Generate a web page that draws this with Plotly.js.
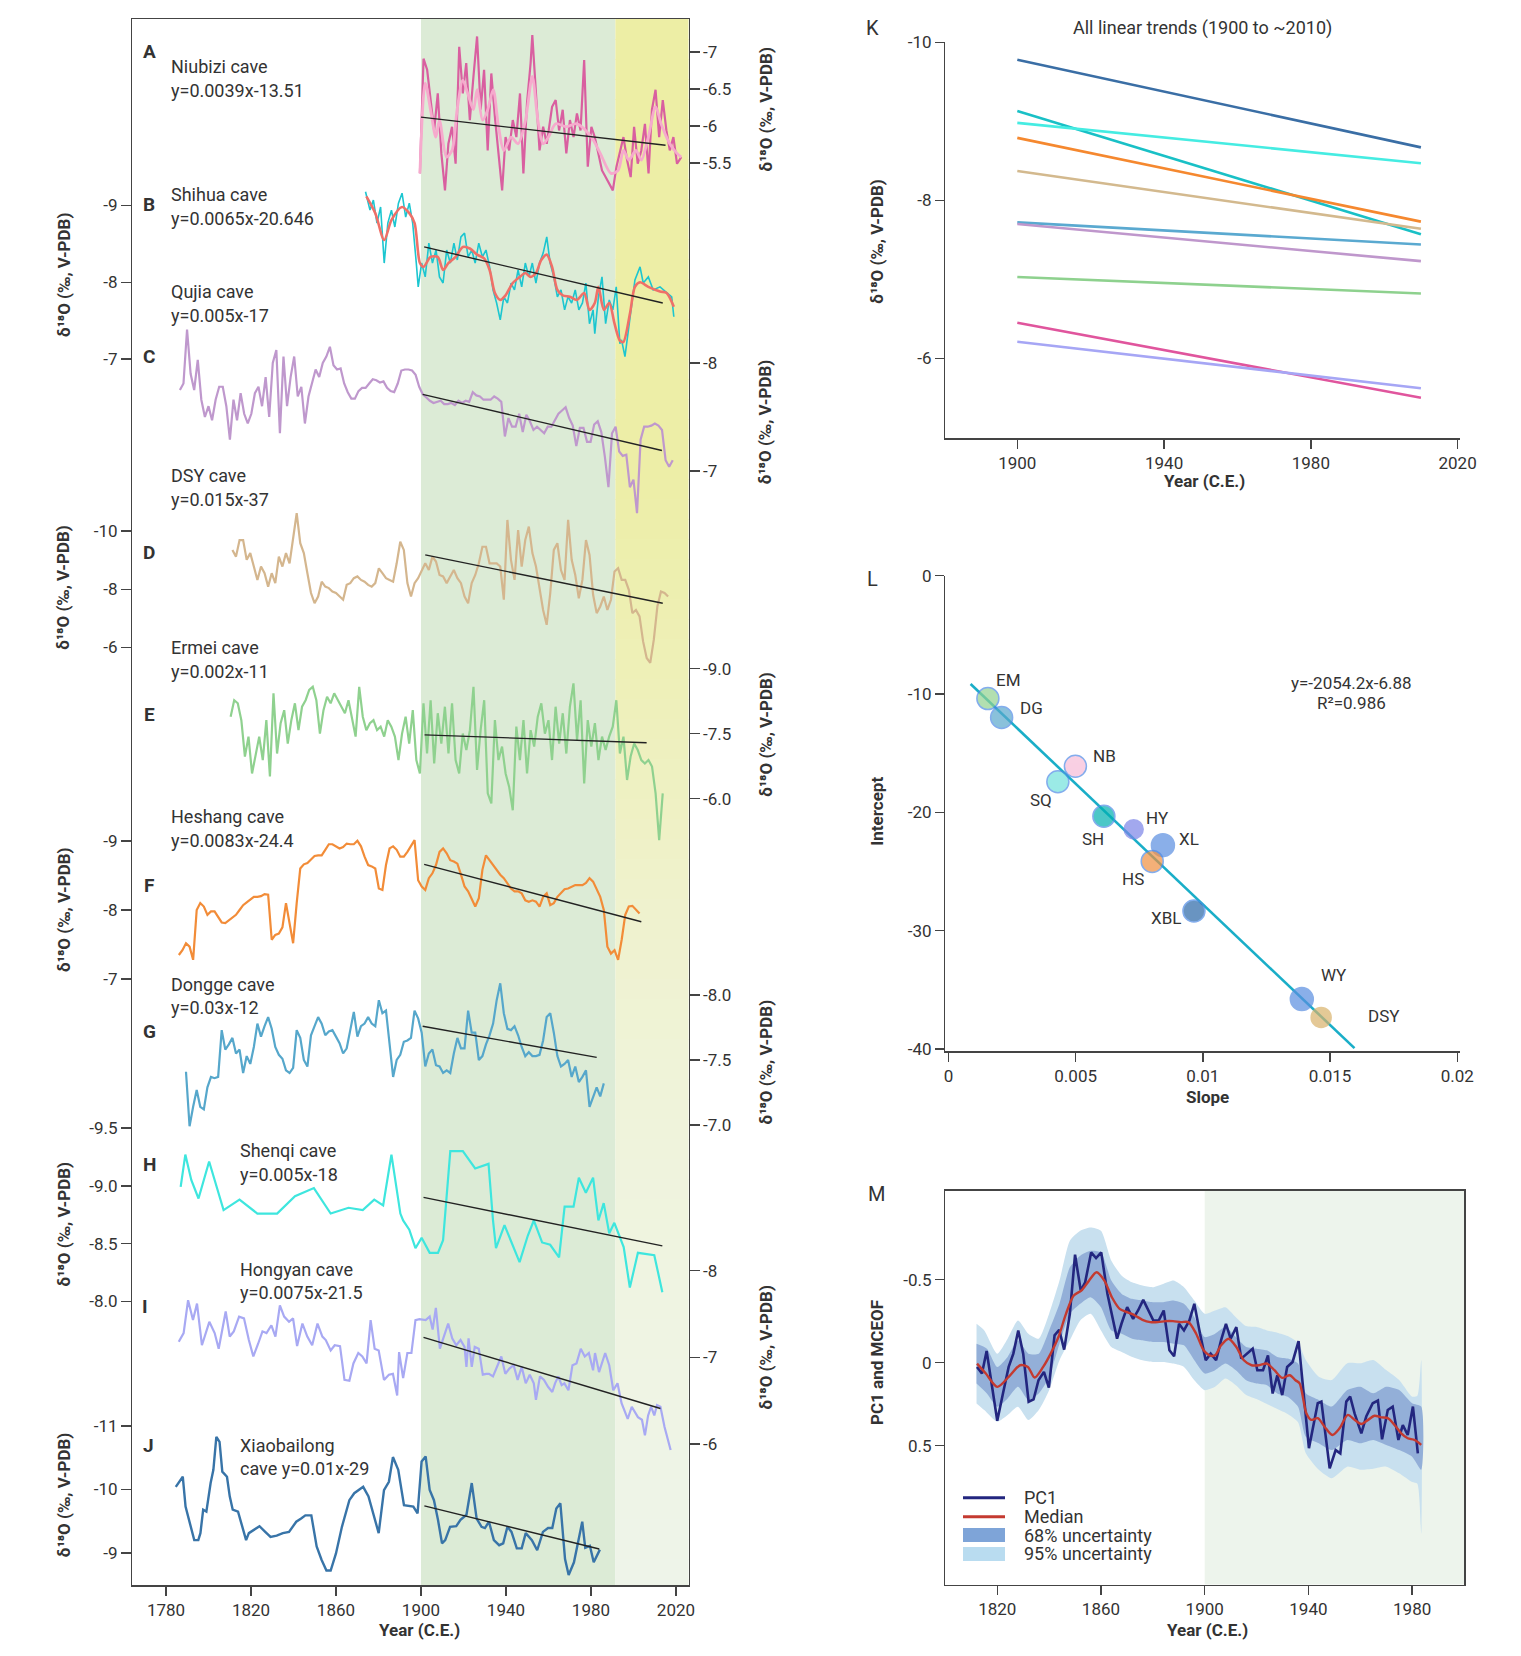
<!DOCTYPE html>
<html><head><meta charset="utf-8">
<script src="https://cdn.plot.ly/plotly-3.0.1.min.js"></script>
<style>html,body{margin:0;padding:0;background:#fff}#chart{width:1521px;height:1656px}</style>
</head><body><div id="chart"></div>
<script>
// ---------------- DATA ----------------
const STEP = 1.6807;

// A  Niubizi cave (raw + smoothed)
const A_years = [1899.5,1901.2,1902.9,1904.5,1906.2,1907.9,1909.6,1911.3,1912.9,1914.6,1916.3,1918.0,1919.7,1921.3,1923.0,1924.7,1926.4,1928.1,1929.7,1931.4,1933.1,1934.8,1936.5,1938.2,1939.8,1941.5,1943.2,1944.9,1946.6,1948.2,1949.9,1951.6,1952.4,1954.1,1955.8,1957.5,1959.2,1961.7,1963.4,1965.0,1966.7,1968.4,1970.1,1971.8,1973.4,1975.1,1976.8,1978.5,1980.2,1981.8,1983.5,1985.2,1986.9,1988.6,1990.3,1992.0,1993.6,1995.3,1997.0,1998.7,2000.3,2002.0,2003.7,2005.4,2007.1,2008.7,2010.4,2012.1,2013.8,2015.5,2017.1,2018.8,2020.5,2022.5];
const A_vals = [-5.36,-6.91,-6.76,-6.40,-5.94,-6.44,-5.63,-5.13,-5.76,-5.99,-5.49,-7.07,-6.44,-6.85,-6.08,-6.67,-7.21,-6.22,-6.76,-5.67,-6.71,-6.12,-5.67,-5.13,-5.85,-5.67,-6.08,-5.85,-6.44,-5.36,-6.31,-6.85,-7.23,-6.40,-5.67,-5.99,-5.76,-6.26,-6.35,-5.94,-6.22,-5.63,-6.08,-5.85,-6.17,-5.94,-6.89,-5.45,-5.99,-5.85,-5.63,-5.40,-5.31,-5.22,-5.13,-5.45,-5.63,-5.85,-5.54,-5.31,-5.99,-5.49,-5.67,-6.03,-5.36,-6.22,-6.49,-5.85,-6.35,-5.94,-5.67,-5.85,-5.49,-5.58];
const As_years = [1899.5,1902.0,1904.5,1907.0,1908.7,1912.0,1914.6,1917.0,1919.7,1922.0,1924.7,1926.4,1929.0,1931.4,1934.0,1936.5,1939.0,1942.4,1945.7,1949.2,1952.4,1955.0,1957.5,1960.0,1963.4,1968.4,1973.4,1980.2,1984.4,1989.4,1992.8,1995.3,1997.8,2001.2,2003.7,2007.0,2010.4,2013.0,2017.1,2020.5,2022.5];
const As_vals = [-5.36,-6.58,-6.22,-5.85,-6.08,-5.58,-5.67,-6.22,-6.62,-6.44,-6.22,-6.49,-6.08,-6.22,-6.49,-5.99,-5.67,-5.85,-5.76,-6.08,-6.67,-6.08,-5.76,-5.85,-6.03,-5.99,-6.03,-5.85,-5.63,-5.36,-5.40,-5.67,-5.54,-5.67,-5.54,-5.85,-6.26,-6.03,-5.76,-5.63,-5.58];

// B  Shihua cave (raw + smoothed)
const B_years = [1873.9,1876.0,1877.6,1879.3,1881.0,1882.7,1884.4,1886.1,1887.7,1889.4,1891.1,1892.8,1894.5,1896.1,1897.8,1898.7,1900.3,1902.0,1903.7,1905.4,1907.1,1908.7,1910.4,1912.1,1913.8,1915.5,1917.1,1918.8,1920.5,1922.2,1923.9,1925.5,1927.2,1928.9,1930.6,1932.3,1933.9,1935.6,1937.3,1939.0,1940.7,1942.4,1944.0,1945.7,1947.4,1949.1,1950.8,1952.4,1954.1,1955.8,1957.5,1959.2,1960.8,1962.5,1964.2,1965.9,1967.6,1969.2,1970.9,1972.6,1974.3,1976.0,1977.6,1979.3,1981.0,1981.8,1983.5,1985.2,1986.9,1988.6,1990.3,1991.9,1993.6,1994.4,1996.0,1998.4,2000.7,2003.1,2004.6,2007.0,2009.3,2012.5,2015.6,2018.0,2019.0];
const B_vals = [-9.18,-8.94,-9.07,-8.77,-8.98,-8.25,-8.77,-8.94,-8.72,-9.03,-9.16,-8.85,-9.03,-8.77,-8.25,-7.94,-8.25,-8.07,-8.51,-8.25,-8.42,-8.07,-7.99,-8.42,-8.25,-8.51,-8.29,-8.59,-8.64,-8.33,-8.42,-8.25,-8.51,-8.33,-8.42,-8.20,-7.90,-7.73,-7.51,-7.81,-7.73,-7.99,-7.90,-8.16,-7.94,-8.25,-8.07,-8.25,-7.99,-8.25,-8.38,-8.59,-8.25,-8.07,-7.81,-7.90,-7.64,-7.81,-7.73,-7.90,-7.64,-7.73,-7.99,-7.46,-7.64,-7.33,-7.81,-8.07,-7.46,-7.77,-7.64,-7.94,-7.20,-7.25,-7.03,-7.51,-8.03,-8.20,-7.99,-8.07,-7.90,-7.94,-7.86,-7.81,-7.55];
const Bs_years = [1874.3,1878.5,1882.7,1886.1,1891.1,1894.5,1897.0,1899.5,1901.2,1904.5,1907.9,1910.4,1912.9,1916.3,1919.7,1923.0,1926.4,1929.7,1932.3,1934.8,1937.3,1939.8,1943.2,1946.6,1949.1,1951.6,1954.1,1956.6,1959.2,1961.7,1964.2,1966.7,1970.1,1973.4,1976.8,1979.3,1981.8,1983.5,1986.1,1988.6,1991.1,1993.6,1995.2,1998.4,2000.7,2003.1,2007.0,2012.5,2015.6,2019.0];
const Bs_vals = [-9.12,-8.90,-8.55,-8.81,-8.98,-8.90,-8.77,-8.25,-8.20,-8.33,-8.33,-8.16,-8.25,-8.33,-8.46,-8.44,-8.36,-8.31,-8.16,-7.86,-7.77,-7.83,-7.99,-8.07,-8.12,-8.07,-8.12,-8.29,-8.36,-8.20,-7.90,-7.83,-7.81,-7.77,-7.86,-7.64,-7.73,-7.94,-7.64,-7.73,-7.46,-7.24,-7.22,-7.60,-7.94,-8.00,-7.94,-7.88,-7.86,-7.68];

// C  Qujia cave (regular sampling from 1786.55)
const C_start = 1786.55;
const C_vals = [-7.75,-7.81,-8.31,-7.90,-7.75,-8.03,-7.66,-7.50,-7.60,-7.47,-7.66,-7.78,-7.78,-7.60,-7.29,-7.66,-7.47,-7.72,-7.53,-7.44,-7.53,-7.72,-7.78,-7.60,-7.87,-7.50,-8.00,-8.12,-7.35,-8.06,-7.60,-7.87,-8.06,-7.69,-7.78,-7.44,-7.69,-7.81,-7.94,-7.87,-8.00,-8.06,-8.15,-7.98,-7.94,-7.95,-7.81,-7.73,-7.67,-7.67,-7.74,-7.77,-7.77,-7.81,-7.85,-7.84,-7.82,-7.83,-7.77,-7.74,-7.73,-7.81,-7.93,-7.94,-7.94,-7.93,-7.89,-7.78,-7.71,-7.68,-7.65,-7.63,-7.64,-7.65,-7.62,-7.62,-7.63,-7.61,-7.65,-7.63,-7.65,-7.64,-7.73,-7.70,-7.69,-7.66,-7.66,-7.66,-7.69,-7.67,-7.64,-7.32,-7.49,-7.41,-7.41,-7.53,-7.36,-7.52,-7.46,-7.38,-7.41,-7.38,-7.35,-7.41,-7.41,-7.47,-7.53,-7.56,-7.59,-7.49,-7.42,-7.23,-7.40,-7.40,-7.27,-7.27,-7.43,-7.46,-7.36,-7.13,-6.85,-7.35,-7.41,-7.18,-7.14,-7.15,-6.85,-6.92,-6.61,-7.29,-7.41,-7.41,-7.42,-7.44,-7.42,-7.38,-7.10,-7.04,-7.10];

// D  DSY cave (regular sampling from 1811.26)
const D_start = 1811.26;
const D_vals = [-9.35,-9.12,-9.69,-9.69,-9.01,-9.24,-8.78,-8.32,-8.78,-8.55,-8.09,-8.55,-8.21,-9.12,-8.78,-9.24,-8.89,-9.69,-10.61,-9.58,-9.24,-8.55,-7.87,-7.52,-7.75,-8.26,-8.09,-8.04,-7.92,-7.87,-7.75,-7.64,-8.15,-8.21,-8.38,-8.44,-8.32,-8.26,-8.15,-8.09,-8.21,-8.72,-8.55,-8.38,-8.32,-8.26,-8.89,-9.63,-9.35,-8.21,-7.75,-8.21,-8.38,-8.61,-8.89,-8.66,-9.12,-8.95,-8.49,-8.44,-8.21,-8.44,-8.66,-8.38,-8.21,-7.75,-7.52,-8.21,-8.49,-8.89,-9.46,-9.46,-8.89,-8.89,-8.89,-8.78,-7.64,-10.38,-9.01,-8.32,-10.03,-8.78,-9.69,-10.15,-9.24,-8.78,-8.09,-7.29,-6.78,-7.87,-9.35,-9.58,-8.66,-8.32,-10.38,-9.01,-8.49,-7.69,-8.32,-9.69,-9.18,-7.81,-7.18,-7.41,-7.75,-7.29,-7.64,-8.61,-8.72,-8.32,-8.32,-7.98,-7.18,-7.29,-7.07,-6.21,-5.64,-5.47,-6.27,-7.41,-7.92,-7.87,-7.75];

// E  Ermei cave (regular sampling from 1810.42)
const E_start = 1810.42;
const E_vals = [-7.89,-8.27,-8.20,-7.81,-6.97,-7.43,-6.58,-7.04,-7.43,-6.89,-7.81,-6.51,-8.43,-7.04,-7.74,-8.04,-7.27,-7.81,-8.20,-7.58,-8.12,-8.27,-8.51,-8.58,-8.27,-7.50,-8.04,-8.35,-8.20,-8.43,-8.27,-8.12,-7.97,-8.27,-7.89,-7.43,-8.58,-7.89,-7.58,-7.74,-7.81,-7.58,-7.66,-7.43,-7.81,-7.66,-7.43,-6.89,-7.50,-7.89,-7.27,-8.04,-6.89,-6.58,-8.20,-7.04,-8.27,-6.81,-7.97,-7.27,-8.12,-7.04,-8.20,-6.89,-6.58,-7.50,-7.12,-7.58,-8.58,-6.66,-7.58,-8.27,-6.12,-5.89,-7.81,-6.89,-7.20,-6.58,-6.27,-5.73,-7.66,-6.89,-7.81,-6.58,-7.58,-7.20,-7.89,-8.20,-7.50,-7.81,-6.89,-8.12,-7.27,-7.97,-7.04,-8.12,-8.66,-7.35,-8.27,-6.35,-7.81,-7.20,-7.74,-6.89,-7.43,-7.12,-7.43,-7.66,-8.27,-7.04,-7.43,-6.43,-6.97,-7.27,-7.12,-6.89,-6.81,-6.89,-6.74,-6.12,-5.04,-6.12];

// F  Heshang cave (regular sampling from 1786.05)
const F_start = 1786.05;
const F_vals = [-7.35,-7.42,-7.52,-7.47,-7.28,-8.00,-8.10,-8.05,-7.93,-7.98,-7.98,-7.90,-7.82,-7.81,-7.85,-7.88,-7.93,-8.00,-8.07,-8.11,-8.15,-8.19,-8.19,-8.20,-8.23,-8.22,-7.57,-7.64,-7.66,-7.75,-8.10,-7.81,-7.52,-8.10,-8.60,-8.66,-8.68,-8.73,-8.78,-8.79,-8.79,-8.87,-8.95,-8.95,-8.92,-8.89,-8.91,-8.96,-8.95,-8.95,-9.00,-8.92,-8.77,-8.65,-8.63,-8.60,-8.31,-8.29,-8.65,-8.89,-8.92,-8.87,-8.77,-8.77,-8.84,-8.93,-9.01,-8.43,-8.34,-8.29,-8.46,-8.53,-8.65,-8.84,-8.89,-8.82,-8.72,-8.70,-8.67,-8.51,-8.34,-8.27,-8.17,-8.05,-8.17,-8.58,-8.79,-8.72,-8.65,-8.58,-8.51,-8.46,-8.39,-8.31,-8.27,-8.27,-8.24,-8.14,-8.12,-8.14,-8.12,-8.05,-8.19,-8.24,-8.07,-8.10,-8.19,-8.25,-8.30,-8.31,-8.34,-8.36,-8.36,-8.36,-8.39,-8.46,-8.41,-8.29,-8.19,-8.00,-7.47,-7.37,-7.42,-7.28,-7.57,-7.93,-8.05,-8.06,-8.00,-7.95];

// G  Dongge cave (regular sampling from 1789.41)
const G_start = 1789.41;
const G_vals = [-7.41,-6.99,-7.14,-7.27,-7.14,-7.12,-7.29,-7.37,-7.36,-7.37,-7.73,-7.58,-7.62,-7.67,-7.55,-7.58,-7.40,-7.53,-7.47,-7.60,-7.78,-7.68,-7.76,-7.83,-7.74,-7.60,-7.54,-7.51,-7.42,-7.40,-7.44,-7.73,-7.67,-7.50,-7.45,-7.69,-7.76,-7.83,-7.78,-7.69,-7.72,-7.73,-7.68,-7.63,-7.55,-7.59,-7.73,-7.87,-7.68,-7.76,-7.78,-7.83,-7.78,-7.76,-7.96,-7.86,-7.88,-7.62,-7.37,-7.50,-7.54,-7.64,-7.65,-7.67,-7.88,-7.82,-7.71,-7.45,-7.55,-7.58,-7.46,-7.45,-7.40,-7.42,-7.40,-7.55,-7.67,-7.59,-7.59,-7.88,-7.71,-7.71,-7.50,-7.53,-7.62,-7.69,-7.78,-7.96,-8.09,-7.86,-7.74,-7.73,-7.76,-7.69,-7.60,-7.53,-7.56,-7.53,-7.53,-7.54,-7.65,-7.83,-7.86,-7.71,-7.53,-7.45,-7.47,-7.50,-7.37,-7.45,-7.33,-7.37,-7.42,-7.14,-7.22,-7.29,-7.22,-7.32];

// H  Shenqi cave
const H_years = [1786.9,1789.1,1791.9,1795.3,1800.3,1807.1,1814.6,1823.0,1832.3,1840.7,1849.6,1857.5,1865.9,1872.6,1878.0,1882.2,1886.1,1890.3,1891.6,1894.5,1897.4,1900.3,1904.1,1908.0,1910.4,1913.8,1919.7,1925.5,1931.8,1933.9,1935.3,1939.3,1946.4,1950.3,1953.1,1957.0,1960.8,1965.0,1967.6,1971.8,1974.3,1977.6,1981.0,1983.5,1986.0,1988.6,1991.0,1995.4,1998.3,2002.1,2009.8,2013.6];
const H_vals = [-8.99,-9.27,-9.05,-8.89,-9.21,-8.79,-8.88,-8.76,-8.76,-8.91,-8.98,-8.76,-8.81,-8.79,-8.88,-8.83,-9.27,-8.76,-8.70,-8.62,-8.46,-8.55,-8.42,-8.42,-8.53,-9.30,-9.30,-9.15,-9.19,-8.70,-8.46,-8.66,-8.34,-8.57,-8.70,-8.51,-8.49,-8.38,-8.82,-8.82,-9.07,-8.94,-9.07,-8.70,-8.85,-8.59,-8.68,-8.47,-8.12,-8.42,-8.40,-8.08];

// I  Hongyan cave
const I_years = [1786.0,1788.3,1790.4,1792.7,1794.6,1796.9,1800.4,1802.9,1804.8,1808.1,1810.0,1811.9,1814.4,1816.7,1819.0,1821.1,1823.4,1825.4,1827.3,1829.6,1831.5,1833.6,1835.6,1837.9,1839.8,1841.7,1844.2,1846.5,1848.8,1851.3,1853.6,1855.2,1857.5,1859.4,1861.9,1864.0,1866.3,1868.2,1870.5,1872.4,1874.4,1876.3,1878.2,1880.1,1882.6,1884.9,1886.8,1888.8,1889.7,1891.6,1893.6,1895.5,1897.4,1899.3,1902.2,1904.1,1905.5,1907.0,1908.9,1910.9,1912.8,1914.7,1916.6,1918.6,1920.5,1921.4,1922.4,1923.9,1925.3,1927.2,1929.1,1930.7,1932.0,1933.9,1935.8,1937.8,1939.7,1941.6,1943.6,1945.5,1947.4,1949.3,1951.2,1953.1,1954.1,1956.0,1957.9,1959.8,1961.8,1963.1,1964.6,1966.2,1967.5,1969.4,1971.3,1973.2,1975.2,1977.1,1979.0,1981.0,1981.9,1983.8,1986.7,1988.6,1990.5,1992.5,1994.4,1997.3,1999.2,2002.1,2004.0,2005.4,2006.9,2008.3,2009.8,2011.1,2012.7,2014.6,2017.5];
const I_vals = [-7.18,-7.28,-7.66,-7.43,-7.62,-7.14,-7.41,-7.28,-7.10,-7.53,-7.24,-7.30,-7.47,-7.45,-7.20,-7.01,-7.16,-7.30,-7.28,-7.37,-7.24,-7.60,-7.47,-7.41,-7.45,-7.13,-7.39,-7.24,-7.14,-7.39,-7.24,-7.20,-7.08,-7.14,-7.13,-6.74,-6.73,-6.93,-7.05,-7.01,-6.93,-7.43,-7.10,-7.08,-6.74,-6.80,-6.81,-6.56,-7.06,-6.76,-7.05,-7.05,-7.43,-7.44,-7.43,-7.47,-7.32,-7.57,-7.10,-7.24,-7.39,-7.22,-7.14,-7.20,-7.12,-6.89,-7.22,-6.89,-7.12,-7.10,-6.80,-6.81,-6.81,-6.78,-6.89,-7.01,-6.81,-6.87,-6.91,-6.74,-6.89,-6.70,-6.80,-6.70,-6.51,-6.78,-6.74,-6.66,-6.60,-6.70,-6.78,-6.68,-6.70,-6.62,-6.91,-6.93,-7.10,-7.01,-7.05,-6.85,-7.05,-6.83,-7.05,-6.91,-6.62,-6.70,-6.47,-6.29,-6.43,-6.31,-6.28,-6.10,-6.33,-6.43,-6.33,-6.45,-6.43,-6.20,-5.93];

// J  Xiaobailong cave
const J_years = [1784.6,1787.9,1789.2,1790.8,1793.3,1795.2,1796.2,1797.5,1799.0,1801.0,1802.3,1803.7,1805.2,1806.5,1808.7,1810.0,1811.4,1813.9,1815.8,1817.7,1819.0,1821.5,1824.0,1826.7,1829.2,1832.1,1835.0,1837.9,1841.3,1843.6,1845.6,1848.4,1850.9,1853.2,1855.5,1857.5,1860.0,1862.8,1866.3,1868.6,1870.5,1872.8,1875.3,1877.8,1880.1,1882.6,1884.9,1886.8,1889.3,1892.0,1894.5,1896.4,1898.4,1900.3,1902.2,1904.1,1906.1,1908.0,1909.9,1911.4,1913.7,1916.6,1918.6,1921.4,1923.9,1926.2,1928.5,1930.1,1932.0,1934.3,1936.8,1938.7,1940.7,1942.6,1945.1,1947.4,1949.3,1952.2,1954.7,1957.4,1959.8,1961.8,1963.7,1965.6,1967.8,1969.5,1972.0,1975.9,1977.3,1979.5,1981.3,1983.0,1984.2];
const J_vals = [-10.04,-10.20,-9.73,-9.52,-9.20,-9.20,-9.31,-9.68,-9.65,-10.10,-10.31,-10.83,-10.75,-10.28,-10.20,-9.89,-9.68,-9.65,-9.41,-9.20,-9.31,-9.36,-9.42,-9.33,-9.25,-9.27,-9.31,-9.33,-9.49,-9.54,-9.59,-9.59,-9.10,-8.89,-8.72,-8.72,-8.99,-9.41,-9.83,-9.94,-9.99,-10.04,-9.89,-9.57,-9.31,-9.99,-10.12,-10.51,-10.31,-9.75,-9.74,-9.73,-9.62,-10.44,-10.52,-9.99,-9.83,-9.52,-9.15,-9.20,-9.41,-9.42,-9.52,-9.60,-10.10,-9.54,-9.41,-9.39,-9.49,-9.20,-9.12,-9.15,-9.41,-9.33,-9.07,-9.07,-9.31,-9.20,-9.04,-9.33,-9.39,-9.39,-9.70,-9.78,-8.90,-8.65,-8.85,-9.49,-9.08,-9.11,-8.85,-8.97,-9.05];

// Linear trends drawn on panels A-J: [start year, start value, end year, end value]
const trendA = [1900.0,-6.12,2015.1,-5.74];
const trendB = [1901.5,-8.46,2013.8,-7.73];
const trendC = [1900.8,-7.71,2013.4,-7.19];
const trendD = [1902.0,-9.18,2013.8,-7.52];
const trendE = [1901.7,-7.47,2006.2,-7.29];
const trendF = [1901.5,-8.66,2003.7,-7.83];
const trendG = [1900.8,-7.76,1982.7,-7.52];
const trendH = [1901.2,-8.90,2013.6,-8.48];
const trendI = [1901.2,-7.23,2012.7,-6.41];
const trendJ = [1901.6,-9.74,1983.9,-9.06];

// K  all linear trends 1900 -> 2010
const K_years = [1900, 2010];
const K_names = ['XBL','SH','SQ','HS','DSY','DG','QJ','EM','NB','HY'];
const K_v1900 = [-9.78,-9.13,-8.98,-8.79,-8.37,-7.72,-7.70,-7.03,-6.45,-6.21];
const K_v2010 = [-8.67,-7.57,-8.47,-7.73,-7.64,-7.44,-7.23,-6.82,-5.50,-5.62];

// L  slope vs intercept
const L_labels = ['EM','DG','NB','SQ','SH','HY','XL','HS','XBL','WY','DSY'];
const L_slope = [0.00155,0.00209,0.00499,0.00430,0.00611,0.00728,0.00843,0.00801,0.00965,0.01389,0.01465];
const L_intercept = [-10.39,-11.99,-16.11,-17.42,-20.34,-21.43,-22.78,-24.15,-28.35,-35.79,-37.34];
const L_fit_x = [0.00087, 0.01596];
const L_fit_y = [-9.16, -39.94];

// M  PC1, median and uncertainty
const PC1_years = [1812.2,1814.1,1815.9,1817.8,1820.0,1822.2,1824.4,1826.2,1828.1,1830.0,1832.1,1834.0,1835.9,1838.0,1839.9,1842.1,1843.9,1845.8,1848.0,1850.0,1852.2,1853.9,1856.2,1858.1,1860.1,1862.5,1864.2,1866.2,1867.9,1870.1,1872.4,1874.3,1876.3,1878.3,1880.2,1882.3,1884.2,1886.4,1888.2,1890.1,1892.0,1894.1,1896.0,1898.2,1900.4,1902.3,1904.4,1906.3,1908.2,1910.0,1912.2,1914.1,1916.2,1918.5,1920.3,1922.5,1924.4,1926.2,1928.0,1929.9,1931.8,1933.9,1936.2,1940.2,1943.6,1945.0,1948.2,1950.5,1952.3,1954.6,1956.1,1957.8,1960.4,1962.3,1964.8,1966.8,1968.4,1970.6,1972.5,1974.7,1976.4,1978.3,1980.3,1982.2];
const PC1_vals = [0.026,0.066,-0.07,0.126,0.35,0.186,0.026,-0.054,-0.194,-0.054,0.236,0.222,0.106,0.056,0.15,-0.164,-0.198,-0.078,-0.294,-0.65,-0.434,-0.484,-0.664,-0.63,-0.664,-0.414,-0.294,-0.144,-0.234,-0.334,-0.264,-0.314,-0.378,-0.314,-0.254,-0.254,-0.314,-0.074,-0.038,-0.234,-0.194,-0.254,-0.354,-0.174,-0.014,-0.054,-0.014,-0.134,-0.234,-0.144,-0.214,-0.024,-0.054,-0.084,0.046,0.046,-0.044,0.186,0.076,0.196,0.026,-0.004,-0.13,0.516,0.245,0.235,0.637,0.527,0.547,0.235,0.205,0.306,0.426,0.325,0.245,0.229,0.462,0.285,0.265,0.466,0.376,0.436,0.265,0.547];
const MED_years = [1812.2,1815.6,1820.0,1824.4,1828.8,1831.8,1834.4,1837.7,1840.6,1843.6,1846.5,1849.5,1852.4,1855.4,1858.3,1861.3,1864.2,1867.2,1870.1,1873.1,1876.0,1879.0,1881.9,1884.9,1887.8,1890.8,1893.7,1896.7,1899.6,1901.8,1904.0,1906.3,1909.2,1912.2,1915.1,1918.1,1921.0,1924.0,1926.9,1929.9,1932.8,1935.0,1936.6,1939.2,1941.1,1943.6,1946.2,1949.2,1952.0,1955.2,1957.8,1960.4,1963.0,1965.5,1968.1,1970.6,1973.2,1975.8,1978.3,1980.9,1983.5];
const MED_vals = [0.006,0.066,0.146,0.086,0.016,0.026,0.09,0.026,-0.054,-0.154,-0.294,-0.404,-0.434,-0.494,-0.544,-0.494,-0.394,-0.324,-0.304,-0.284,-0.258,-0.244,-0.244,-0.25,-0.25,-0.244,-0.244,-0.174,-0.074,-0.044,-0.044,-0.104,-0.144,-0.094,-0.014,0.016,0.016,0.006,0.046,0.092,0.076,0.106,0.125,0.305,0.345,0.335,0.386,0.436,0.396,0.315,0.345,0.37,0.345,0.32,0.33,0.335,0.376,0.426,0.456,0.466,0.496];
const U95_years = [1812,1815,1820,1824,1828,1832,1836,1840,1844,1848,1852,1856,1860,1864,1868,1872,1876,1880,1884,1888,1892,1896,1900,1904,1908,1912,1916,1920,1924,1928,1932,1936,1939,1944,1949,1955,1960,1965,1970,1975,1980,1982,1983.5];
const U95_top = [-0.234,-0.194,-0.054,-0.144,-0.254,-0.174,-0.144,-0.294,-0.494,-0.734,-0.794,-0.814,-0.794,-0.614,-0.524,-0.484,-0.464,-0.454,-0.474,-0.494,-0.454,-0.374,-0.294,-0.314,-0.334,-0.274,-0.22,-0.214,-0.194,-0.18,-0.16,-0.12,-0.016,0.085,0.105,0.004,0.004,-0.016,0.045,0.105,0.205,0.20,-0.016];
const U95_bot = [0.246,0.286,0.356,0.316,0.266,0.346,0.286,0.166,-0.014,-0.134,-0.254,-0.294,-0.194,-0.094,-0.064,-0.034,-0.014,-0.004,-0.004,0.006,0.026,0.106,0.166,0.146,0.096,0.136,0.195,0.22,0.25,0.28,0.31,0.36,0.546,0.646,0.697,0.627,0.646,0.64,0.627,0.667,0.72,0.73,1.03];
const U68_years = [1812,1816,1820,1824,1828,1832,1836,1840,1844,1848,1852,1856,1860,1864,1868,1872,1876,1880,1884,1888,1892,1896,1900,1904,1908,1912,1916,1920,1924,1928,1932,1936,1939,1944,1949,1955,1960,1965,1970,1975,1980,1983.5];
const U68_top = [-0.114,-0.084,0.026,-0.034,-0.134,-0.054,-0.054,-0.194,-0.354,-0.574,-0.644,-0.674,-0.664,-0.494,-0.414,-0.384,-0.374,-0.364,-0.364,-0.374,-0.354,-0.274,-0.154,-0.174,-0.214,-0.154,-0.094,-0.084,-0.074,-0.034,-0.024,0.006,0.185,0.225,0.265,0.165,0.145,0.185,0.145,0.165,0.245,0.265];
const U68_bot = [0.126,0.186,0.266,0.216,0.146,0.226,0.186,0.086,-0.114,-0.294,-0.354,-0.394,-0.334,-0.194,-0.174,-0.144,-0.134,-0.124,-0.124,-0.114,-0.104,-0.014,0.066,0.046,0.006,0.046,0.106,0.126,0.136,0.186,0.206,0.266,0.446,0.486,0.527,0.466,0.486,0.466,0.496,0.527,0.567,0.646];

// Tick labels
const LEFT_X_TICKS = [1780,1820,1860,1900,1940,1980,2020];
const M_X_TICKS = [1820,1860,1900,1940,1980];
const K_X_TICKS = [1900,1940,1980,2020];
const GREEN_END = 1991.5;

// ---------------- STYLE / LAYOUT ----------------
const W = 1521, H = 1656;
const fx = x => x / W, fy = y => 1 - y / H;
const FONT = 'Roboto, "Noto Sans", "DejaVu Sans", sans-serif';
const TXT = '#333333', AX = '#444444';
const seq = (s, n) => Array.from({length: n}, (_, i) => +(s + i * STEP).toFixed(2));

const LP = {l: 132, r: 688.7, t: 19, b: 1585};
function yRange(v1, p1, v2, p2) {
  const s = (v2 - v1) / (p2 - p1);
  return [v1 + s * (LP.b - p1), v1 + s * (LP.t - p1)];
}

const traces = [];
function line(x, y, ya, color, width, shape, xa) {
  traces.push({type: 'scatter', mode: 'lines', x, y, xaxis: xa || 'x', yaxis: ya,
    line: {color, width, shape: shape || 'linear', smoothing: 0.8}, hoverinfo: 'skip', showlegend: false});
}
function trend(t, ya) { line([t[0], t[2]], [t[1], t[3]], ya, '#222222', 1.4); }

// dummy trace to create frame subplot
traces.push({type: 'scatter', mode: 'markers', x: [1900], y: [0.5], xaxis: 'x', yaxis: 'y', marker: {opacity: 0}, hoverinfo: 'skip', showlegend: false});

line(A_years, A_vals, 'y2', '#d95fa0', 2.2);
line(As_years, As_vals, 'y2', '#f6aacd', 2.8, 'spline');
trend(trendA, 'y2');
line(B_years, B_vals, 'y3', '#1cc6d0', 1.6);
line(Bs_years, Bs_vals, 'y3', '#f07068', 2.6, 'spline');
trend(trendB, 'y3');
line(seq(C_start, C_vals.length), C_vals, 'y4', '#bf98cd', 2.2); trend(trendC, 'y4');
line(seq(D_start, D_vals.length), D_vals, 'y5', '#d4b68e', 2.2); trend(trendD, 'y5');
line(seq(E_start, E_vals.length), E_vals, 'y6', '#8fd18f', 2.2); trend(trendE, 'y6');
line(seq(F_start, F_vals.length), F_vals, 'y7', '#f28c38', 2.2); trend(trendF, 'y7');
line(seq(G_start, G_vals.length), G_vals, 'y8', '#56a7cb', 2.2); trend(trendG, 'y8');
line(H_years, H_vals, 'y9', '#3ee6de', 2.2); trend(trendH, 'y9');
line(I_years, I_vals, 'y10', '#a8a9f3', 2.2); trend(trendI, 'y10');
line(J_years, J_vals, 'y11', '#3874a8', 2.4); trend(trendJ, 'y11');

// K
const K_colors = ['#3a6ea5','#19c0c6','#45ece2','#f5882f','#d3b98e','#5aa9d0','#bf97cc','#8ed18e','#e0559d','#a6a6f5'];
K_names.forEach((n, i) => line(K_years, [K_v1900[i], K_v2010[i]], 'y12', K_colors[i], 2.6, 'linear', 'x2'));

// L
line(L_fit_x, L_fit_y, 'y13', '#1aaec8', 2.6, 'linear', 'x3');
const L_colors = ['#92d28f','#5aa7cc','#f7bcd8','#72e2dc','#00b0b0','#7b84e8','#5a8ee0','#f0903f','#2a68a8','#5a8ee0','#d9b26a'];
const L_sizes = [22,22,22,22,22,19,23,22,22,23,20];
const L_lines = ['#4f8be6','#4f8be6','#4f8be6','#4f8be6','#4f8be6','#7b84e8','#5a8ee0','#4f8be6','#4f8be6','#5a8ee0','#d9b26a'];
traces.push({type: 'scatter', mode: 'markers', x: L_slope, y: L_intercept, xaxis: 'x3', yaxis: 'y13',
  marker: {color: L_colors, size: L_sizes, line: {color: L_lines, width: 1.5}}, hoverinfo: 'skip', showlegend: false});

// M
function band(xs, top, bot, color) {
  traces.push({type: 'scatter', mode: 'lines', x: xs.concat(xs.slice().reverse()), y: top.concat(bot.slice().reverse()),
    fill: 'toself', fillcolor: color, line: {width: 0, shape: 'spline', smoothing: 0.6}, xaxis: 'x4', yaxis: 'y14', hoverinfo: 'skip', showlegend: false});
}
band(U95_years, U95_top, U95_bot, '#c8e0ef');
band(U68_years, U68_top, U68_bot, '#93afd8');
line(PC1_years, PC1_vals, 'y14', '#23267f', 2.6, 'linear', 'x4');
line(MED_years, MED_vals, 'y14', '#c43a30', 2.4, 'spline', 'x4');

const tickfont = {family: FONT, size: 17, color: TXT};
const baseAx = {showgrid: false, zeroline: false, ticks: 'outside', ticklen: 9, tickwidth: 1.5, tickcolor: AX, tickfont, fixedrange: true};

const layout = {
  width: W, height: H, margin: {l: 0, r: 0, t: 0, b: 0}, paper_bgcolor: '#ffffff', plot_bgcolor: 'rgba(0,0,0,0)',
  showlegend: false, hovermode: false, font: {family: FONT, size: 17, color: TXT},
  xaxis: Object.assign({}, baseAx, {domain: [fx(LP.l), fx(LP.r)], anchor: 'y', range: [1764, 2026], tickvals: LEFT_X_TICKS,
    showline: true, mirror: true, linecolor: AX, linewidth: 1.5}),
  yaxis: {domain: [fy(LP.b), fy(LP.t)], anchor: 'x', range: [0, 1], showline: true, mirror: true, linecolor: AX, linewidth: 1.5,
    ticks: '', showticklabels: false, showgrid: false, zeroline: false, fixedrange: true},
  shapes: [], annotations: []
};

const series = [
  ['yaxis2', 'right', [-7, -6.5, -6, -5.5], ['-7', '-6.5', '-6', '-5.5'], [-7, 52, -5.5, 163]],
  ['yaxis3', 'left', [-9, -8, -7], ['-9', '-8', '-7'], [-9, 205.5, -7, 359]],
  ['yaxis4', 'right', [-8, -7], ['-8', '-7'], [-8, 363, -7, 471]],
  ['yaxis5', 'left', [-10, -8, -6], ['-10', '-8', '-6'], [-10, 531, -6, 647.5]],
  ['yaxis6', 'right', [-9, -7.5, -6], ['-9.0', '-7.5', '-6.0'], [-9, 668.6, -6, 798.6]],
  ['yaxis7', 'left', [-9, -8, -7], ['-9', '-8', '-7'], [-9, 840.8, -7, 979.2]],
  ['yaxis8', 'right', [-8, -7.5, -7], ['-8.0', '-7.5', '-7.0'], [-8, 995, -7, 1125]],
  ['yaxis9', 'left', [-9.5, -9, -8.5, -8], ['-9.5', '-9.0', '-8.5', '-8.0'], [-9.5, 1128, -8, 1301.4]],
  ['yaxis10', 'right', [-8, -7, -6], ['-8', '-7', '-6'], [-8, 1270.7, -6, 1444]],
  ['yaxis11', 'left', [-11, -10, -9], ['-11', '-10', '-9'], [-11, 1426, -9, 1552.8]]
];
series.forEach(s => {
  const a = s[4];
  layout[s[0]] = Object.assign({}, baseAx, {overlaying: 'y', anchor: 'x', side: s[1], range: yRange(a[0], a[1], a[2], a[3]),
    tickvals: s[2], ticktext: s[3], showline: false, ticklen: 10});
});

// K axes
layout.xaxis2 = Object.assign({}, baseAx, {domain: [fx(945.4), fx(1459.8)], anchor: 'y12', range: [1880.4, 2020.6], tickvals: K_X_TICKS,
  showline: true, linecolor: AX, linewidth: 1.5});
layout.yaxis12 = Object.assign({}, baseAx, {domain: [fy(438.4), fy(42.3)], anchor: 'x2', range: [-4.986, -10], tickvals: [-10, -8, -6],
  ticktext: ['-10', '-8', '-6'], showline: true, linecolor: AX, linewidth: 1.5});
// L axes
layout.xaxis3 = Object.assign({}, baseAx, {domain: [fx(945.4), fx(1459.8)], anchor: 'y13', range: [-0.00012, 0.0201],
  tickvals: [0, 0.005, 0.01, 0.015, 0.02], ticktext: ['0', '0.005', '0.01', '0.015', '0.02'], showline: true, linecolor: AX, linewidth: 1.5});
layout.yaxis13 = Object.assign({}, baseAx, {domain: [fy(1051), fy(575.7)], anchor: 'x3', range: [-40.18, 0],
  tickvals: [0, -10, -20, -30, -40], ticktext: ['0', '-10', '-20', '-30', '-40'], showline: true, linecolor: AX, linewidth: 1.5});
// M axes
layout.xaxis4 = Object.assign({}, baseAx, {domain: [fx(945.4), fx(1464)], anchor: 'y14', range: [1800, 2000], tickvals: M_X_TICKS,
  showline: true, mirror: true, linecolor: AX, linewidth: 1.5});
layout.yaxis14 = Object.assign({}, baseAx, {domain: [fy(1584.5), fy(1190.5)], anchor: 'x4', range: [1.337, -1.037],
  tickvals: [-0.5, 0, 0.5], ticktext: ['-0.5', '0', '0.5'], showline: true, mirror: true, linecolor: AX, linewidth: 1.5});

// background bands
const S = layout.shapes;
S.push({type: 'rect', xref: 'x', yref: 'paper', x0: 1900, x1: GREEN_END, y0: fy(LP.b), y1: fy(LP.t), fillcolor: '#dcebd6', line: {width: 0}, layer: 'below'});
const yStops = [[19, [237, 238, 165]], [480, [237, 238, 167]], [700, [238, 240, 186]], [900, [239, 242, 205]], [1100, [239, 243, 218]], [1300, [239, 244, 226]], [1585, [238, 244, 233]]];
function yellowAt(y) {
  for (let i = 1; i < yStops.length; i++) {
    if (y <= yStops[i][0]) {
      const [y0, c0] = yStops[i - 1], [y1, c1] = yStops[i], t = (y - y0) / (y1 - y0);
      return 'rgb(' + c0.map((c, k) => Math.round(c + (c1[k] - c) * t)).join(',') + ')';
    }
  }
  return 'rgb(238,244,233)';
}
for (let y = LP.t; y < LP.b; y += 20) {
  const y2 = Math.min(y + 21, LP.b);
  S.push({type: 'rect', xref: 'x', yref: 'paper', x0: GREEN_END, x1: 2026, y0: fy(y2), y1: fy(y), fillcolor: yellowAt(y + 10), line: {width: 0}, layer: 'below'});
}
S.push({type: 'rect', xref: 'x4', yref: 'paper', x0: 1900, x1: 2000, y0: fy(1584.5), y1: fy(1190.5), fillcolor: '#edf4ec', line: {width: 0}, layer: 'below'});

// M legend (manual)
S.push({type: 'line', xref: 'paper', yref: 'paper', x0: fx(963), x1: fx(1005), y0: fy(1497.7), y1: fy(1497.7), line: {color: '#23267f', width: 3}});
S.push({type: 'line', xref: 'paper', yref: 'paper', x0: fx(963), x1: fx(1005), y0: fy(1516.7), y1: fy(1516.7), line: {color: '#c43a30', width: 3}});
S.push({type: 'rect', xref: 'paper', yref: 'paper', x0: fx(963), x1: fx(1005), y0: fy(1542), y1: fy(1528), fillcolor: '#7ea4d8', line: {width: 0}});
S.push({type: 'rect', xref: 'paper', yref: 'paper', x0: fx(963), x1: fx(1005), y0: fy(1561), y1: fy(1547), fillcolor: '#b9dcf0', line: {width: 0}});

// annotations
const A = layout.annotations;
function ann(text, x, y, o) {
  A.push(Object.assign({text, x: fx(x), y: fy(y), xref: 'paper', yref: 'paper', showarrow: false, xanchor: 'center', yanchor: 'middle',
    font: {family: FONT, size: 17, color: TXT}}, o || {}));
}
const BOLD = s => ({family: FONT, size: s, color: TXT, weight: 'bold'});
const REG = s => ({family: FONT, size: s, color: TXT});
const letters = [['A', 149, 51], ['B', 149, 204], ['C', 149, 356], ['D', 149, 552.5], ['E', 149, 714], ['F', 149, 885], ['G', 149, 1031], ['H', 149, 1164], ['I', 145, 1306], ['J', 148, 1445]];
letters.forEach(l => ann(l[0], l[1], l[2], {font: BOLD(19)}));
const cave = [
  ['Niubizi cave', 'y=0.0039x-13.51', 169, 67],
  ['Shihua cave', 'y=0.0065x-20.646', 169, 195],
  ['Qujia cave', 'y=0.005x-17', 169, 291.7],
  ['DSY cave', 'y=0.015x-37', 169, 476],
  ['Ermei cave', 'y=0.002x-11', 169, 647.7],
  ['Heshang cave', 'y=0.0083x-24.4', 169, 816.7],
  ['Dongge cave', 'y=0.03x-12', 169, 984],
  ['Shenqi cave', 'y=0.005x-18', 238, 1150.7],
  ['Hongyan cave', 'y=0.0075x-21.5', 238, 1269.3],
  ['Xiaobailong', 'cave y=0.01x-29', 238, 1445]
];
cave.forEach(c => {
  ann(c[0], c[2], c[3], {xanchor: 'left', font: REG(18)});
  ann(c[1], c[2], c[3] + 23.3, {xanchor: 'left', font: REG(18)});
});
const dT = 'δ\u00B9\u2078O (‰, V-PDB)';
[[63.5, 274.6], [63.5, 587.3], [63.5, 909.5], [63.5, 1224], [63.5, 1494.7], [765.8, 108.8], [765.8, 421.5], [765.8, 734], [765.8, 1061.6], [765.8, 1346.8], [877, 241.7]]
  .forEach(p => ann(dT, p[0], p[1], {textangle: -90, font: BOLD(17)}));
ann('Year (C.E.)', 419.4, 1630, {font: BOLD(17)});
ann('Year (C.E.)', 1207.4, 1630, {font: BOLD(17)});
ann('Year (C.E.)', 1204, 480.6, {font: BOLD(17)});
ann('Slope', 1207.4, 1096.5, {font: BOLD(17)});
ann('Intercept', 877, 811.7, {textangle: -90, font: BOLD(17)});
ann('PC1 and MCEOF', 877, 1363, {textangle: -90, font: BOLD(17)});
ann('K', 872.5, 27.5, {font: REG(20)});
ann('L', 872.5, 579, {font: REG(20)});
ann('M', 876.7, 1193.6, {font: REG(20)});
ann('All linear trends (1900 to ~2010)', 1202, 27.5, {font: REG(18)});
ann('y=-2054.2x-6.88', 1351, 683.4, {font: REG(17)});
ann('R\u00B2=0.986', 1351, 703, {font: REG(17)});
[['PC1', 1497.7], ['Median', 1516.7], ['68% uncertainty', 1535], ['95% uncertainty', 1553.5]]
  .forEach(r => ann(r[0], 1021.5, r[1], {xanchor: 'left', font: REG(18)}));
// L point labels (offsets in px from marker centre)
const L_off = [[21, 19], [29.5, 9.7], [28.7, 10], [-17.2, -18.7], [-10.7, -22.3], [24, 11], [25.6, 6], [-19.5, -18], [-27.5, -6.7], [31.8, 24.3], [62.4, 1.7]];
L_labels.forEach((t, i) => A.push({text: t, x: L_slope[i], y: L_intercept[i], xref: 'x3', yref: 'y13', showarrow: false,
  xshift: L_off[i][0], yshift: L_off[i][1], xanchor: 'center', yanchor: 'middle', font: REG(17)}));

Plotly.newPlot('chart', traces, layout, {staticPlot: true, displayModeBar: false});
</script></body></html>
